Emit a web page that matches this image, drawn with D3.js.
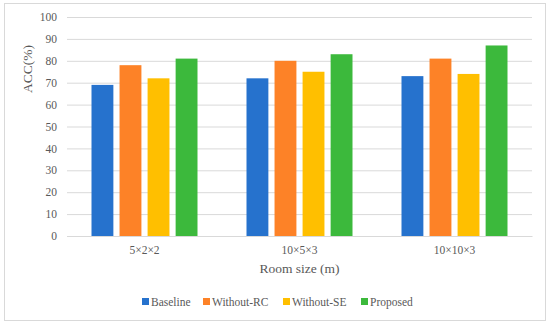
<!DOCTYPE html>
<html>
<head>
<meta charset="utf-8">
<script src="https://cdn.jsdelivr.net/npm/d3@7"></script>
<style>
  body { margin: 0; background: #fff; }
  svg text { font-family: "Times New Roman", "Liberation Serif", Tinos, serif; fill: #595959; }
</style>
</head>
<body>
<div id="chart"></div>
<script>
const rooms = ["5×2×2", "10×5×3", "10×10×3"];
const methods = ["Baseline", "Without-RC", "Without-SE", "Proposed"];
const colors = ["#2672cd", "#fd8227", "#ffbf00", "#3cb93c"];
const baseline = [69, 72, 73];
const withoutRC = [78, 80, 81];
const withoutSE = [72, 75, 74];
const proposed = [81, 83, 87];
const yTicks = [0, 10, 20, 30, 40, 50, 60, 70, 80, 90, 100];

const series = [baseline, withoutRC, withoutSE, proposed];

const width = 550, height = 325;
const margin = { top: 17, right: 18, bottom: 89, left: 67 };

const svg = d3.select("#chart").append("svg")
  .attr("width", width)
  .attr("height", height);

// outer frame
svg.append("rect")
  .attr("x", 4.5).attr("y", 3.5)
  .attr("width", width - 9).attr("height", height - 8)
  .attr("fill", "#fff")
  .attr("stroke", "#d9d9d9");

const x = d3.scaleBand()
  .domain(rooms)
  .range([margin.left, width - margin.right]);

const xInner = d3.scaleBand()
  .domain(methods)
  .range([0, 106])
  .paddingInner(0.22);

const y = d3.scaleLinear()
  .domain([0, 100])
  .range([height - margin.bottom, margin.top]);

// gridlines
svg.append("g")
  .selectAll("line")
  .data(yTicks)
  .join("line")
  .attr("x1", margin.left).attr("x2", width - margin.right)
  .attr("y1", d => y(d) + 0.5).attr("y2", d => y(d) + 0.5)
  .attr("stroke", "#d9d9d9");

// y axis labels
const yAxis = svg.append("g")
  .attr("transform", `translate(${margin.left},0)`)
  .call(d3.axisLeft(y).tickValues(yTicks).tickSize(0).tickPadding(10));
yAxis.attr("font-family", null);
yAxis.select(".domain").remove();
yAxis.selectAll("text")
  .attr("font-size", 11.5);

// bars
const group = svg.append("g")
  .selectAll("g")
  .data(rooms)
  .join("g")
  .attr("transform", d => `translate(${x(d) + (x.bandwidth() - 106) / 2},0)`);

group.selectAll("rect")
  .data((d, i) => methods.map((m, j) => ({ method: m, value: series[j][i], color: colors[j] })))
  .join("rect")
  .attr("x", d => xInner(d.method))
  .attr("width", xInner.bandwidth())
  .attr("y", d => y(d.value))
  .attr("height", d => y(0) - y(d.value))
  .attr("fill", d => d.color);

// x axis labels
const xAxis = svg.append("g")
  .attr("transform", `translate(0,${y(0)})`)
  .call(d3.axisBottom(x).tickSize(0).tickPadding(10));
xAxis.attr("font-family", null);
xAxis.select(".domain").attr("stroke", "#d9d9d9");
xAxis.selectAll("text")
  .attr("font-size", 11.5);

// axis titles
svg.append("text")
  .attr("x", (margin.left + width - margin.right) / 2)
  .attr("y", 273)
  .attr("text-anchor", "middle")
  .attr("font-size", 13.5)
  .text("Room size (m)");

svg.append("text")
  .attr("transform", "translate(32,69) rotate(-90)")
  .attr("text-anchor", "middle")
  .attr("font-size", 13.5)
  .text("ACC(%)");

// legend
const legendX = [142, 203, 283, 361];
const legend = svg.append("g")
  .selectAll("g")
  .data(methods)
  .join("g")
  .attr("transform", (d, i) => `translate(${legendX[i]},302)`);

legend.append("rect")
  .attr("x", 0).attr("y", -4)
  .attr("width", 7).attr("height", 7)
  .attr("fill", (d, i) => colors[i]);

legend.append("text")
  .attr("x", 9)
  .attr("y", 4)
  .attr("font-size", 11.5)
  .text(d => d);
</script>
</body>
</html>
